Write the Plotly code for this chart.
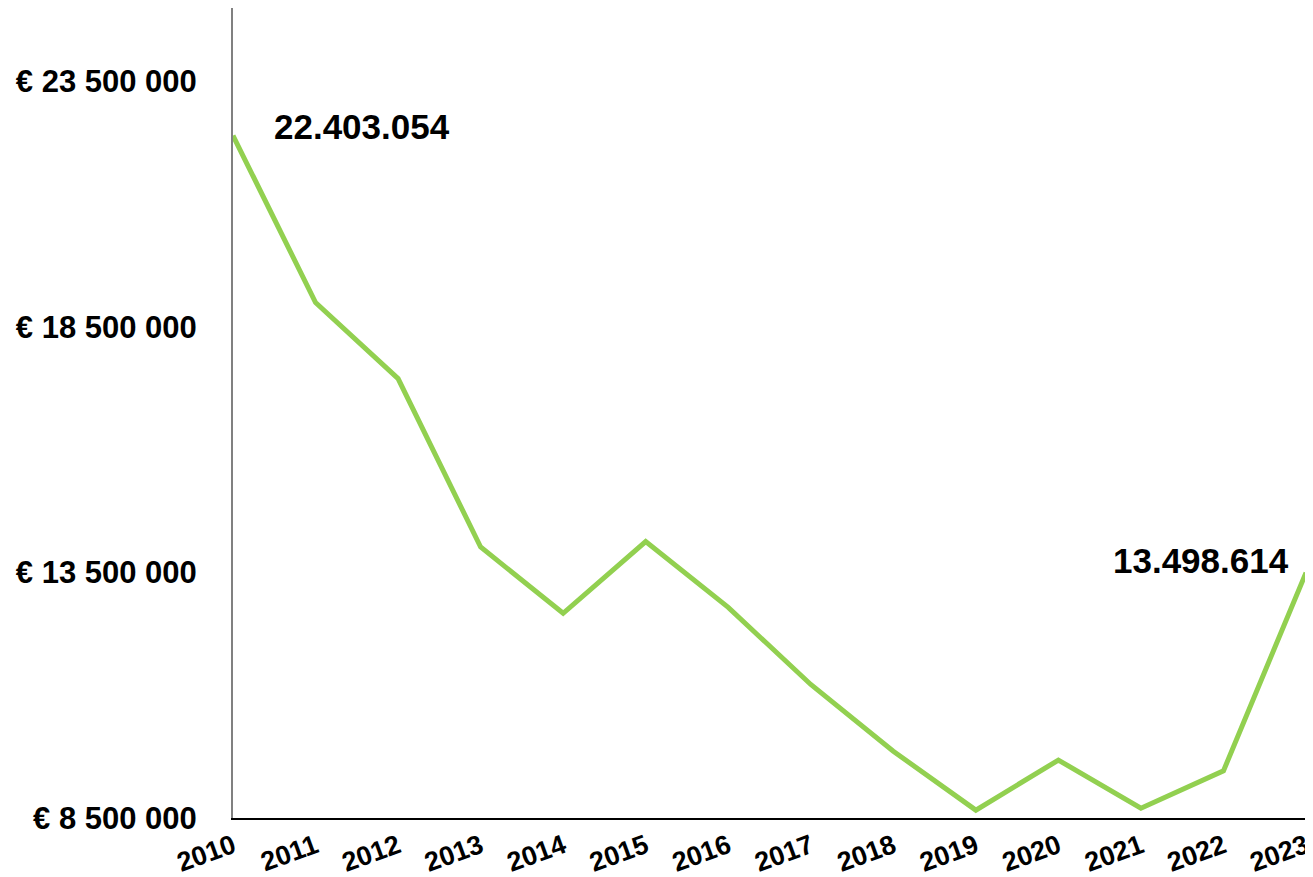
import plotly.graph_objects as go

years = [2010, 2011, 2012, 2013, 2014, 2015, 2016, 2017, 2018, 2019, 2020, 2021, 2022, 2023]
values = [22403054, 19000000, 17450000, 14020000, 12670000, 14130000, 12790000,
          11220000, 9860000, 8660000, 9680000, 8700000, 9460000, 13498614]
y_tickvals = [8500000, 13500000, 18500000, 23500000]
y_ticktext = ["€ 8 500 000", "€ 13 500 000", "€ 18 500 000", "€ 23 500 000"]
label_first = "22.403.054"
label_last = "13.498.614"

FONT = "Liberation Sans, Arial, sans-serif"

fig = go.Figure()
fig.add_trace(go.Scatter(
    x=years, y=values, mode="lines",
    line=dict(color="#92D050", width=5),
    hoverinfo="skip", showlegend=False,
))

fig.add_annotation(x=years[0], y=values[0], text="<b>%s</b>" % label_first,
                   showarrow=False, xanchor="left", yanchor="middle",
                   xshift=39, yshift=9, font=dict(family=FONT, size=35, color="black"))
fig.add_annotation(x=years[-1], y=values[-1], text="<b>%s</b>" % label_last,
                   showarrow=False, xanchor="right", yanchor="middle",
                   xshift=-15, yshift=12, font=dict(family=FONT, size=35, color="black"))

# page body has an 8px default margin, so the figure is sized to fit the window
fig.update_layout(
    width=1305, height=869,
    margin=dict(l=225, r=7, t=0, b=59, autoexpand=False),
    paper_bgcolor="white", plot_bgcolor="white",
    font=dict(family=FONT, color="black"),
    xaxis=dict(
        range=[years[0], years[-1]], tickmode="array", tickvals=years,
        ticktext=["<b>%d</b>" % y for y in years], tickangle=-20,
        tickfont=dict(family=FONT, size=27, color="black"),
        showgrid=False, zeroline=False, showline=True, linecolor="black", linewidth=2,
        ticks="", fixedrange=True, automargin=False, ticklabeloverflow="allow",
    ),
    yaxis=dict(
        range=[8500000, 25000000], tickmode="array", tickvals=y_tickvals,
        ticktext=["<b>%s</b>" % t for t in y_ticktext],
        tickfont=dict(family=FONT, size=31, color="black"),
        showgrid=False, zeroline=False, showline=True, linecolor="#808080", linewidth=2,
        ticks="", ticklabelstandoff=28, fixedrange=True, automargin=False,
        ticklabeloverflow="allow",
    ),
)

fig.write_html("out.html")
